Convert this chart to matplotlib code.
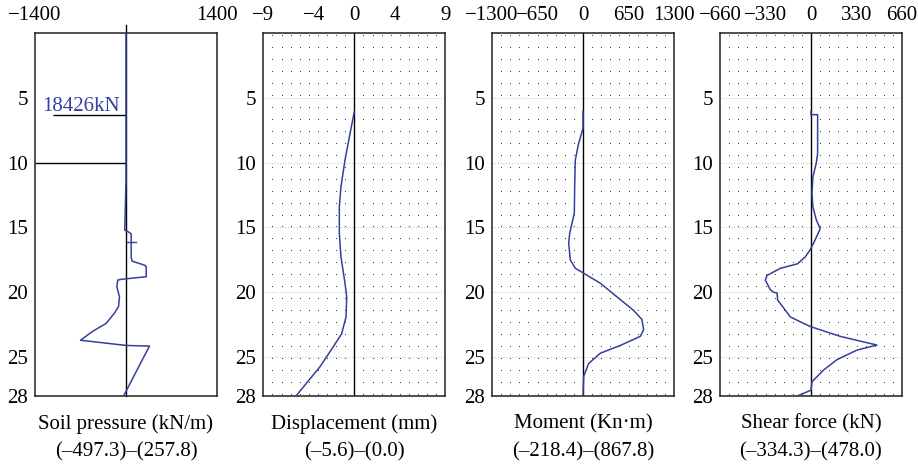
import numpy as np
import matplotlib
matplotlib.use('Agg')
import matplotlib.pyplot as plt

plt.rcParams['font.family'] = ['Liberation Serif', 'DejaVu Serif']
plt.rcParams['font.size'] = 15

blue = '#34409a'

# soil pressure (kN/m) vs depth (m)
soil_depth = [0.0, 11.3, 13.0, 15.0, 15.2, 15.35, 15.5, 17.3, 17.6, 17.9, 18.0, 18.8, 19.0, 19.06,
              19.57, 20.35, 21.1, 21.6, 22.4, 23.0, 23.7, 24.1, 24.15, 28.0]
soil_val = [0, 0, -8, -18, -20, 40, 80, 80, 95, 280, 311, 311, -74, -126,
            -141, -100, -115, -177, -305, -510, -700, 3, 361, -38]
strut_depth = 6.33
strut_left = -1130
strut_label = '18426kN'
excav_depth = 10.0
cross_depth = 16.1
cross_x = [8, 161]

# displacement (mm)
disp_depth = [6.07, 7.74, 9.8, 11.86, 13.4, 15.45, 17.26, 19.3, 20.35, 21.9, 23.2, 24.2, 25.75, 28.0]
disp_val = [0, -0.42, -0.92, -1.32, -1.48, -1.48, -1.32, -0.92, -0.75, -0.82, -1.25, -2.08, -3.4, -5.77]

# moment (kN.m)
mom_depth = [6.07, 7.36, 8.5, 9.8, 11.86, 13.9, 15.46, 16.2, 17.5, 18.15, 18.5, 19.3, 20.35, 21.4,
             22.1, 22.9, 23.4, 24.1, 24.7, 25.5, 26.5, 28.0]
mom_val = [0, 0, -62, -110, -119, -124, -190, -205, -181, -110, 0, 247, 485, 723,
           842, 866, 818, 533, 247, 80, 9, 0]

# shear force (kN)
shear_depth = [6.07, 6.3, 6.3, 9.3, 10.05, 11.1, 12.4, 13.4, 14.4, 15.1, 16.2, 16.7, 17.26, 17.8,
               18.15, 18.7, 19.06, 19.8, 20.0, 20.05, 20.6, 21.2, 21.9, 22.4, 22.66, 23.4, 24.07,
               24.46, 25.2, 26.0, 26.9, 27.55, 28.0]
shear_val = [0, 0, 48, 48, 38, 14, 7, 14, 38, 67, 19, -5, -41, -97,
             -222, -319, -331, -295, -271, -246, -242, -199, -150, -54, 0, 212, 478,
             333, 188, 91, 7, 0, -101]

limits = [1400, 9, 1300, 660]
xticks = [[-1400, 1400], [-9, -4, 0, 4, 9], [-1300, -650, 0, 650, 1300], [-660, -330, 0, 330, 660]]
titles = ['Soil pressure (kN/m)', 'Displacement (mm)', 'Moment (Kn·m)', 'Shear force (kN)']
ranges = ['(–497.3)–(257.8)', '(–5.6)–(0.0)', '(–218.4)–(867.8)', '(–334.3)–(478.0)']
yticks = [5, 10, 15, 20, 25, 28]
depth_max = 28

curves = [(soil_val, soil_depth), (disp_val, disp_depth), (mom_val, mom_depth), (shear_val, shear_depth)]
lefts = [35, 263.3, 492, 720]

fig = plt.figure(figsize=(9.18, 4.68), dpi=100)
W, H = 918, 468

for i in range(4):
    ax = fig.add_axes([lefts[i] / W, 72 / H, 182 / W, 363 / H])
    lim = limits[i]
    ax.set_xlim(-lim, lim)
    ax.set_ylim(depth_max, 0)
    ax.xaxis.tick_top()
    ax.set_xticks(xticks[i])
    ax.set_yticks(yticks)
    ax.tick_params(axis='both', length=0, labelsize=15)
    ax.tick_params(axis='x', pad=6)
    ax.tick_params(axis='y', pad=5)
    for sp in ax.spines.values():
        sp.set_linewidth(1.1)
        sp.set_color('#222222')

    if i > 0:
        # dotted background
        gx = np.linspace(-lim, lim, 21)[1:-1]
        gx = gx[np.abs(gx) > 1e-9]
        gy = np.linspace(0.15, depth_max - 0.15, 31)
        XX, YY = np.meshgrid(gx, gy)
        ax.scatter(XX.ravel(), YY.ravel(), s=0.5, color='#333333', linewidths=0, zorder=1)
        for yt in yticks[:-1]:
            ax.axhline(yt, color='#888888', lw=0.5, ls=(0, (1, 3)), zorder=1)
        ax.axvline(0, color='black', lw=1.0, zorder=2)
    else:
        ax.axvline(0, ymin=0, ymax=1.022, color='black', lw=1.0, clip_on=False, zorder=2)
        ax.hlines(excav_depth, -lim, 0, color='black', lw=1.0)
        ax.hlines(strut_depth, strut_left, 0, color='black', lw=1.0)
        ax.text(-90, strut_depth - 0.3, strut_label, color=blue, ha='right', va='baseline', fontsize=15)
        ax.plot(cross_x, [cross_depth, cross_depth], color=blue, lw=1.0)

    xv, yv = curves[i]
    ax.plot(xv, yv, color=blue, lw=1.1, zorder=3)

    ax.text(0.5, -0.077, titles[i], transform=ax.transAxes, ha='center', va='center', fontsize=15)
    ax.text(0.5, -0.154, ranges[i], transform=ax.transAxes, ha='center', va='center', fontsize=15)

fig.savefig('out.png', dpi=100)
